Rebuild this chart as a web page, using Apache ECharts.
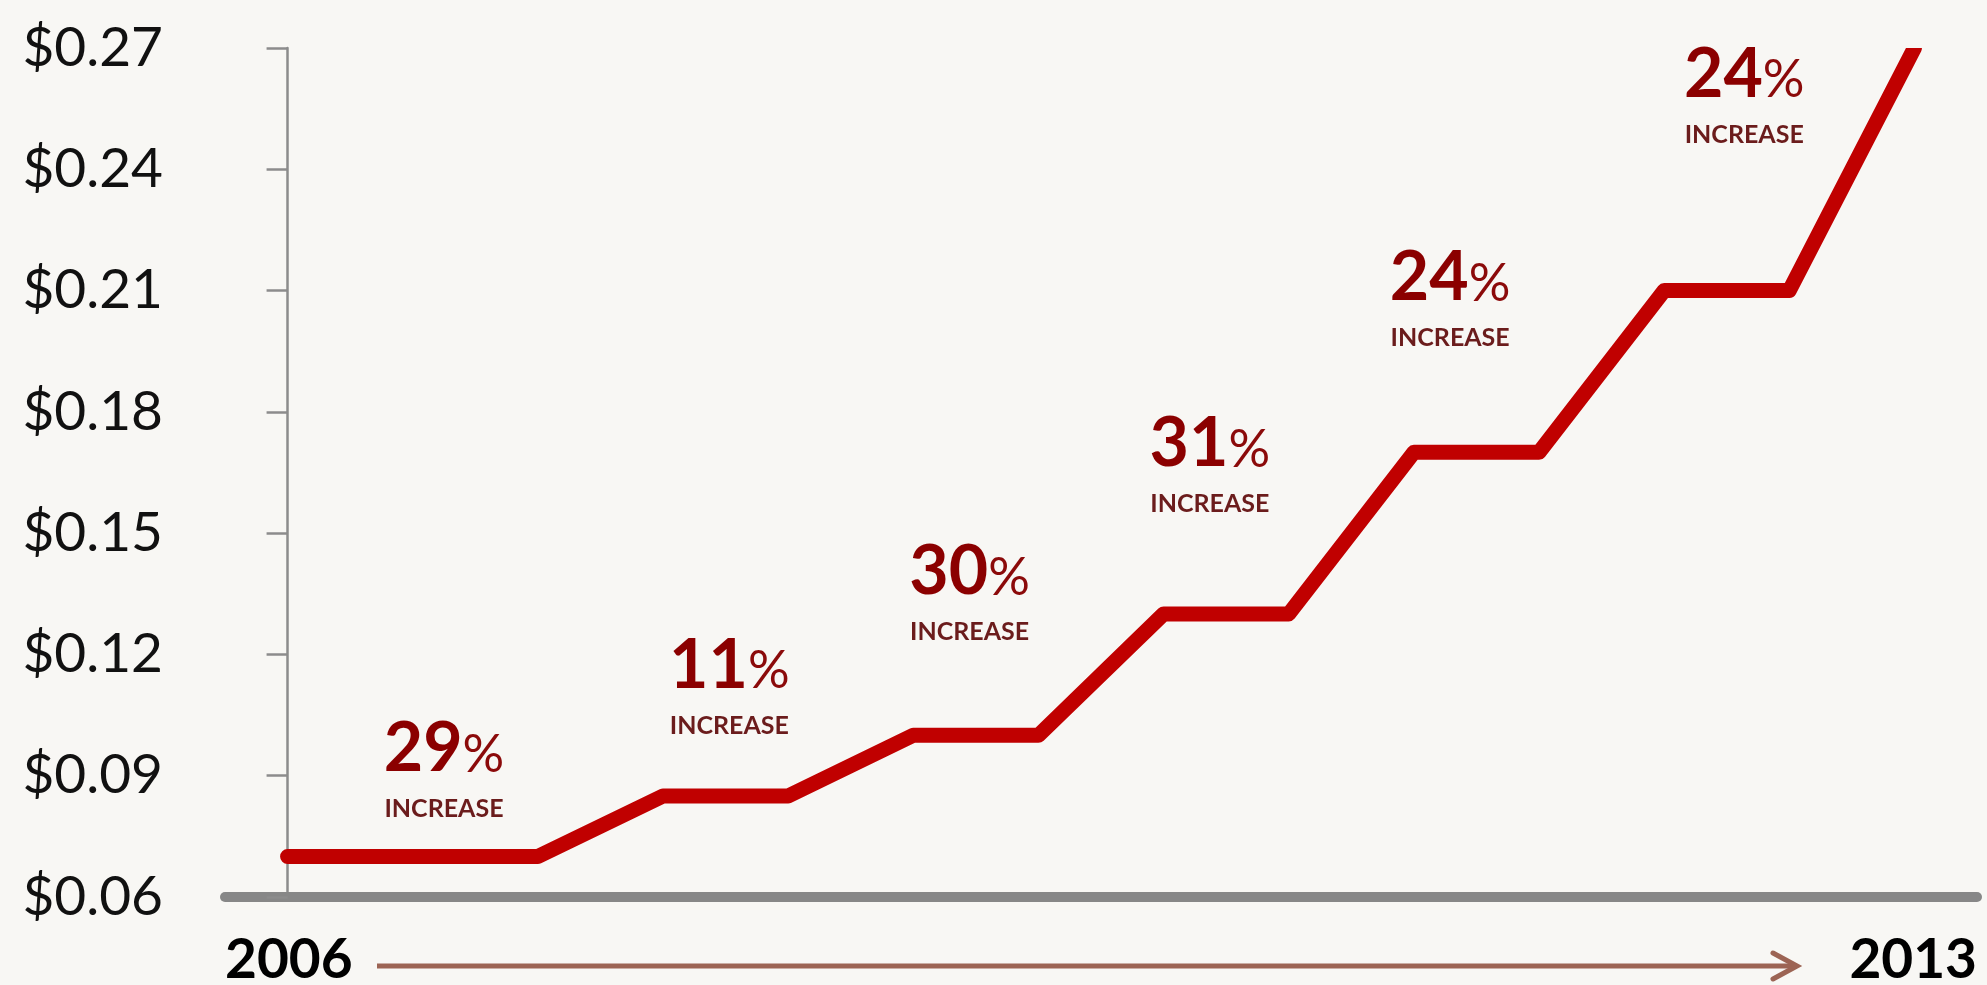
<!DOCTYPE html>
<html>
<head>
<meta charset="utf-8">
<script src="https://cdn.jsdelivr.net/npm/echarts@6/dist/echarts.min.js"></script>
<style>
  html, body { margin: 0; padding: 0; background: #f8f7f4; }
  #chart { width: 1987px; height: 985px; }
</style>
</head>
<body>
<div id="chart"></div>
<script>
// Half-year periods from 2006 to 2012
const periods = ['2006 H1','2006 H2','2007 H1','2007 H2','2008 H1','2008 H2','2009 H1','2009 H2','2010 H1','2010 H2','2011 H1','2011 H2','2012 H1','2012 H2'];
// Price per unit ($)
const prices = [0.07, 0.07, 0.07, 0.085, 0.085, 0.10, 0.10, 0.13, 0.13, 0.17, 0.17, 0.21, 0.21, 0.27];
// Y-axis ticks
const yMin = 0.06, yMax = 0.27, yStep = 0.03;
// Increase annotations: percent text and anchor (period index, value)
const increasePct = ['29', '11', '30', '31', '24', '24'];
const increaseAt = [1.25, 3.53, 5.45, 7.37, 9.29, 11.64];
const increaseVal = [0.0891, 0.1098, 0.1330, 0.1646, 0.2057, 0.2560];
const yearLabels = ['2006', '2013'];

const chart = echarts.init(document.getElementById('chart'));
const font = 'Lato, "Open Sans", sans-serif';
const bg = '#f8f7f4';

const annData = increasePct.map((p, i) => ({ value: [increaseAt[i], increaseVal[i]], pct: p }));

chart.setOption({
  backgroundColor: bg,
  animation: false,
  grid: { left: 225, right: 10, top: 48, bottom: 88, outerBoundsMode: 'none', containLabel: false },
  xAxis: [
    {
      type: 'category', data: periods, boundaryGap: true,
      axisLine: { show: true, lineStyle: { color: '#878787', width: 10 } },
      axisTick: { show: false }, axisLabel: { show: false }, splitLine: { show: false }
    },
    {
      type: 'value', min: -0.5, max: 13.5, show: false
    }
  ],
  yAxis: {
    type: 'value', min: yMin, max: yMax, interval: yStep,
    axisLine: { show: true, lineStyle: { color: '#8c8c8c', width: 2.5 } },
    axisTick: { show: true, length: 21, lineStyle: { color: '#8c8c8c', width: 2.5 } },
    splitLine: { show: false },
    axisLabel: {
      margin: 62, fontFamily: font, fontSize: 55, color: '#111111',
      formatter: v => '$' + v.toFixed(2)
    }
  },
  series: [
    {
      type: 'line', data: prices, xAxisIndex: 0, symbol: 'none', clip: true,
      lineStyle: { color: '#c00000', width: 15, cap: 'round', join: 'round' },
      z: 2
    },
    {
      type: 'scatter', xAxisIndex: 1, data: annData, symbolSize: 0, silent: true,
      itemStyle: { opacity: 1 },
      label: {
        show: true, position: 'inside', opacity: 1,
        formatter: p => '{num|' + p.data.pct + '}{pct|%}\n{inc|INCREASE}',
        rich: {
          num: { fontFamily: font, fontWeight: 'bold', fontSize: 68, color: '#8b0000', lineHeight: 60 },
          pct: { fontFamily: font, fontSize: 52, color: '#8b0a0a', lineHeight: 60, padding: [12, 0, 0, 0] },
          inc: { fontFamily: font, fontWeight: 'bold', fontSize: 25, color: '#6b1c1c', lineHeight: 60 }
        }
      },
      z: 5
    }
  ],
  graphic: [
    // mask above the plot top so the line end is cut flat at the top edge
    { type: 'rect', z: 3, silent: true, shape: { x: 1860, y: 20, width: 110, height: 28 }, style: { fill: bg } },
    { type: 'text', left: 225, top: 933, style: { text: yearLabels[0], font: 'bold 55px ' + font, fill: '#000000' } },
    { type: 'text', right: 10, top: 933, style: { text: yearLabels[1], font: 'bold 55px ' + font, fill: '#000000' } },
    { type: 'line', shape: { x1: 377, y1: 966, x2: 1795, y2: 966 }, style: { stroke: '#9c6454', lineWidth: 5 } },
    { type: 'polyline', shape: { points: [[1773, 953], [1797, 966], [1773, 979]] }, style: { stroke: '#9c6454', lineWidth: 5, lineCap: 'round', lineJoin: 'miter', fill: null } }
  ]
});
</script>
</body>
</html>
